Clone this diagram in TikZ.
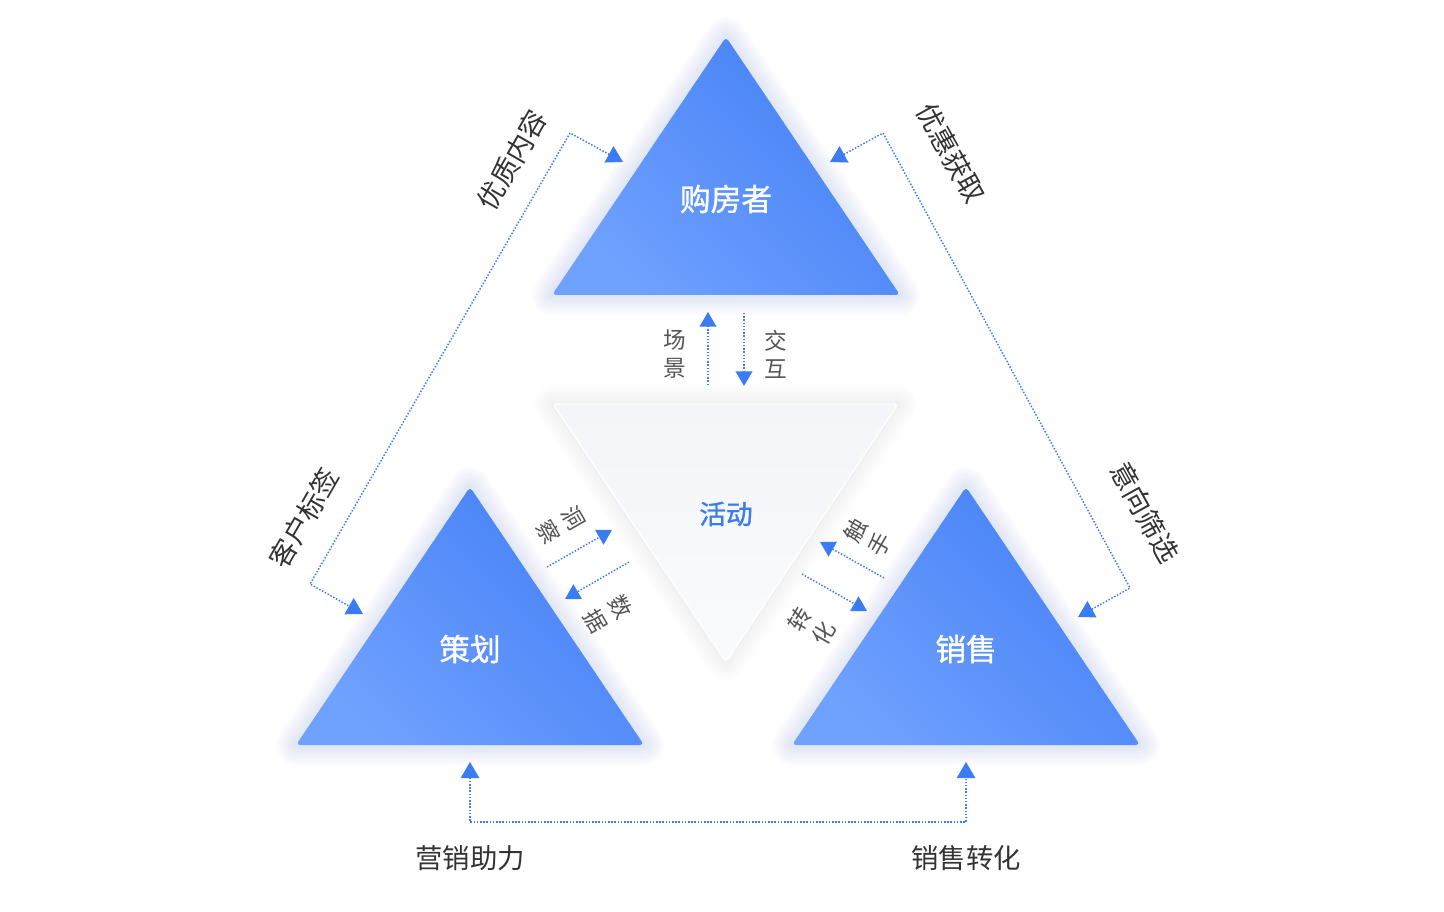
\documentclass[tikz,border=0pt]{standalone}
\usepackage{fontspec}
\newfontfamily\cjk{Noto Sans CJK SC}
\newfontfamily\cjkmid{Noto Sans CJK SC}[FakeBold=1.2]
\usetikzlibrary{arrows.meta}
\definecolor{tridark}{HTML}{4580F5}
\definecolor{trilight}{HTML}{6FA1FF}
\definecolor{lineblue}{HTML}{3B7BF4}
\definecolor{glowblue}{HTML}{8C9FF0}
\definecolor{actfill}{HTML}{F3F5F8}
\definecolor{actblue}{HTML}{3A7AF5}
\definecolor{txtdark}{HTML}{333333}
\definecolor{txtgray}{HTML}{555555}
\tikzset{
  bigtip/.tip={Triangle[length=12pt,width=13.8pt]},
  smalltip/.tip={Triangle[length=11pt,width=12.6pt]},
  dotline/.style={draw=lineblue,line width=1.1pt,dash pattern=on 1.1pt off 1.3pt},
  mainlabel/.style={text=white,font=\cjkmid\fontsize{23}{23}\selectfont},
  actlabel/.style={text=actblue,font=\cjkmid\fontsize{20}{20}\selectfont},
  outlabel/.style={text=txtdark,font=\cjk\fontsize{20.5}{20.5}\selectfont},
  sidelabel/.style={text=txtgray,align=center,inner sep=0pt,font=\cjk\fontsize{17}{21}\selectfont}
}
\begin{document}
\begin{tikzpicture}[x=0.75pt,y=-0.75pt]
  \useasboundingbox (0,0) rectangle (1444,912);
  \fill[white] (0,0) rectangle (1444,912);
  \foreach \w in {4,8,...,28}
    \draw[gray!70,opacity=.02,line width=\w pt,line join=round] (553,404) -- (898,404) -- (726,662) -- cycle;
  \draw[top color=actfill,bottom color=white!60!actfill,draw=white,line width=1pt,rounded corners=3pt]
    (553,404) -- (898,404) -- (726,662) -- cycle;
  \node[actlabel] (act) at (726,514) {活动};
  \foreach \x/\y/\n/\t in {726/37/buyer/购房者,470/487/plan/策划,966/487/sale/销售}{
    \foreach \w in {3,6,...,30}
      \draw[glowblue,opacity=.025,line width=\w pt,line join=round]
        (\x,\y) -- ++(174,258) -- ++(-348,0) -- cycle;
    \shade[left color=trilight,right color=tridark,shading angle=135,rounded corners=3pt]
      (\x,\y) -- ++(174,258) -- ++(-348,0) -- cycle;
    \node[mainlabel] (\n) at (\x,\y+162) {\t};
  }
  \coordinate (ltip1) at (623,162); \coordinate (lcor1) at (570,133);
  \coordinate (lcor2) at (310,584); \coordinate (ltip2) at (363,614);
  \coordinate (rtip1) at (830,162); \coordinate (rcor1) at (883,133);
  \coordinate (rcor2) at (1130,588); \coordinate (rtip2) at (1078,617);
  \coordinate (btip1) at (470,762); \coordinate (bcor1) at (470,822);
  \coordinate (bcor2) at (966,822); \coordinate (btip2) at (966,762);
  \draw[dotline,bigtip-bigtip] (ltip1) -- (lcor1) -- (lcor2) -- (ltip2);
  \draw[dotline,bigtip-bigtip] (rtip1) -- (rcor1) -- (rcor2) -- (rtip2);
  \draw[dotline,bigtip-bigtip] (btip1) -- (bcor1) -- (bcor2) -- (btip2);
  \coordinate (up0) at (708,385); \coordinate (up1) at (708,312);
  \coordinate (dn0) at (744,313); \coordinate (dn1) at (744,386);
  \coordinate (ins0) at (547,567); \coordinate (ins1) at (612,530);
  \coordinate (dat0) at (629,562); \coordinate (dat1) at (565,599);
  \coordinate (rea0) at (884,578); \coordinate (rea1) at (820,542);
  \coordinate (con0) at (802,574); \coordinate (con1) at (867,611);
  \draw[dotline,-smalltip] (up0) -- (up1);
  \draw[dotline,-smalltip] (dn0) -- (dn1);
  \draw[dotline,-smalltip] (ins0) -- (ins1);
  \draw[dotline,-smalltip] (dat0) -- (dat1);
  \draw[dotline,-smalltip] (rea0) -- (rea1);
  \draw[dotline,-smalltip] (con0) -- (con1);
  \node[sidelabel] (scene) at (675,354) {场\\景};
  \node[sidelabel] (inter) at (776,354) {交\\互};
  \node[sidelabel,rotate=-60] (insight) at (561,525) {洞\\察};
  \node[sidelabel,rotate=-60] (data) at (608,614) {数\\据};
  \node[sidelabel,rotate=60] (reach) at (868,537) {触\\手};
  \node[sidelabel,rotate=60] (conv) at (812,626) {转\\化};
  \node[outlabel,rotate=60] (content) at (512,160) {优质内容};
  \node[outlabel,rotate=60] (tag) at (304,518) {客户标签};
  \node[outlabel,rotate=-61] (offer) at (951,153) {优惠获取};
  \node[outlabel,rotate=-61] (intent) at (1145,512) {意向筛选};
  \node[outlabel] (mkt) at (470,858) {营销助力};
  \node[outlabel] (sales) at (966,858) {销售转化};
\end{tikzpicture}
\end{document}
